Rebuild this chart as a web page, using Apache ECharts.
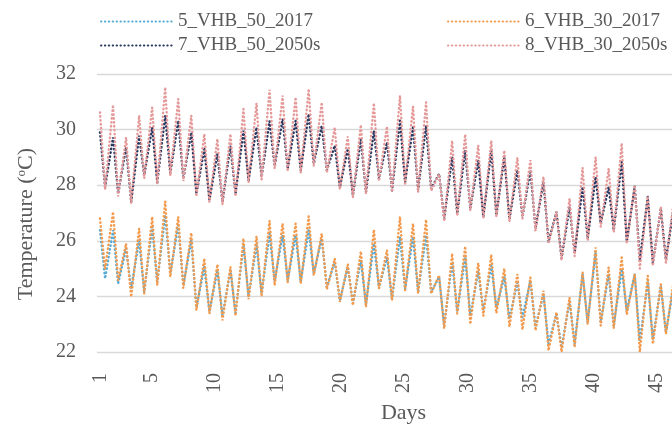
<!DOCTYPE html>
<html>
<head>
<meta charset="utf-8">
<script src="https://cdn.jsdelivr.net/npm/echarts@6/dist/echarts.min.js"></script>
<style>
  html, body { margin: 0; padding: 0; background: #ffffff; }
  #chart { width: 672px; height: 427px; }
</style>
</head>
<body>
<div id="chart"></div>
<script>
// Indoor temperature, daily maxima and minima for each case (°C)
const seriesNames = ['5_VHB_50_2017', '6_VHB_30_2017', '7_VHB_50_2050s', '8_VHB_30_2050s'];
const dayTicks = [1, 5, 10, 15, 20, 25, 30, 35, 40, 45];

const peak5 = [26.38, 26.38, 25.72, 26.02, 26.5, 26.92, 26.56, 26.02, 25.06, 24.94,
               24.94, 25.84, 25.84, 26.26, 26.2, 26.2, 26.38, 26.08, 25.24, 25.06,
               25.3, 25.9, 25.42, 26.14, 26.14, 26.2, 24.7, 25.24, 25.42, 24.9,
               25.1, 24.7, 24.5, 24.56, 24.08, 23.37, 23.84, 24.8, 25.58, 24.8,
               24.98, 24.8, 24.5, 24.38, 24.4, 24.6, 24.3];
const trough5 = [24.64, 24.46, 24.28, 24.16, 24.52, 24.82, 24.4, 23.6, 23.45, 23.3,
                 23.4, 24.0, 24.1, 24.55, 24.58, 24.52, 24.82, 24.34, 23.85, 23.75,
                 23.7, 24.3, 23.9, 24.25, 24.15, 24.15, 22.95, 23.45, 23.3, 23.5,
                 23.6, 23.2, 23.25, 22.9, 22.3, 22.15, 22.3, 23.07, 23.07, 22.95,
                 23.49, 22.4, 22.45, 22.7, 22.9, 23.0, 22.8];

const peak6 = [26.8, 27.04, 25.9, 26.44, 26.86, 27.42, 26.86, 26.28, 25.36, 25.15,
               25.06, 26.08, 26.16, 26.72, 26.62, 26.62, 26.88, 26.26, 25.36, 25.15,
               25.62, 26.4, 25.66, 26.86, 26.62, 26.76, 24.76, 25.54, 25.8, 25.2,
               25.5, 25.0, 24.8, 24.68, 24.2, 23.43, 23.96, 24.86, 25.76, 25.04,
               25.4, 24.8, 24.74, 24.44, 24.6, 24.9, 24.5];
const trough6 = [25.0, 24.58, 23.98, 24.1, 24.4, 24.7, 24.3, 23.5, 23.38, 23.14,
                 23.3, 23.9, 24.0, 24.4, 24.5, 24.45, 24.75, 24.25, 23.8, 23.68,
                 23.62, 24.28, 23.86, 24.22, 24.1, 24.1, 22.84, 23.38, 23.0, 23.3,
                 23.4, 22.9, 22.8, 22.77, 22.05, 22.0, 22.17, 23.0, 22.95, 22.85,
                 23.35, 22.0, 22.29, 22.65, 22.8, 22.9, 22.7];

const peak7 = [29.9, 29.72, 29.37, 29.78, 30.08, 30.5, 30.32, 29.9, 29.3, 29.13,
               29.42, 29.96, 30.08, 30.3, 30.38, 30.32, 30.56, 30.14, 29.43, 29.31,
               29.66, 29.96, 29.54, 30.32, 30.08, 30.14, 28.41, 29.0, 29.25, 28.89,
               29.25, 29.01, 28.54, 28.54, 28.12, 27.04, 27.22, 27.94, 28.3, 27.94,
               28.83, 27.96, 27.58, 27.16, 27.22, 27.5, 27.3];
const trough7 = [27.93, 27.69, 27.39, 28.35, 28.1, 28.43, 28.23, 27.69, 27.47, 27.39,
                 27.69, 28.17, 28.29, 28.68, 28.59, 28.53, 28.77, 28.53, 27.93, 27.63,
                 27.75, 28.23, 27.81, 28.11, 27.83, 27.87, 26.79, 26.97, 27.16, 26.86,
                 26.92, 26.77, 26.86, 26.44, 25.97, 25.37, 25.55, 26.09, 26.62, 26.38,
                 25.97, 25.31, 25.19, 25.31, 25.4, 25.5, 25.3];

const peak8 = [30.62, 30.89, 29.72, 30.5, 30.8, 31.52, 31.1, 30.5, 29.84, 29.66,
               29.84, 30.74, 30.95, 31.43, 31.22, 31.16, 31.46, 30.98, 30.08, 29.75,
               30.17, 30.95, 30.11, 31.22, 30.83, 30.98, 28.4, 29.6, 29.83, 29.43,
               29.6, 29.25, 28.99, 28.9, 28.3, 27.04, 27.52, 28.63, 29.01, 28.6,
               29.51, 28.0, 27.6, 27.22, 27.46, 27.8, 27.5];
const trough8 = [27.85, 27.6, 27.35, 28.25, 28.05, 28.35, 28.15, 27.6, 27.4, 27.3,
                 27.6, 28.1, 28.2, 28.6, 28.5, 28.45, 28.7, 28.45, 27.85, 27.55,
                 27.7, 28.15, 27.75, 28.05, 27.75, 27.8, 26.7, 26.9, 27.1, 26.8,
                 26.85, 26.7, 26.8, 26.35, 25.9, 25.3, 25.45, 26.0, 26.5, 26.3,
                 25.9, 25.0, 25.1, 25.2, 25.3, 25.4, 25.2];

// time of the daily maximum and minimum, as a fraction of the simulated day
const PEAK_AT = 0.23;
const TROUGH_AT = 0.62;

function dailyCycle(peaks, troughs) {
  const pts = [];
  peaks.forEach((p, i) => {
    pts.push([i + PEAK_AT, p]);
    pts.push([i + TROUGH_AT, troughs[i]]);
  });
  return pts;
}

const colors = ['#55ABD5', '#F29A4E', '#283861', '#E59999'];
const serif = '"Liberation Serif", "Times New Roman", serif';
const textGrey = '#595959';

const chart = echarts.init(document.getElementById('chart'), null, { renderer: 'canvas' });

const dotted = (c) => ({ color: c, width: 2.4, type: [0.4, 3.5], cap: 'round' });

const legendBase = {
  orient: 'vertical', top: 7,
  itemWidth: 72, itemHeight: 10, itemGap: 5,
  itemStyle: { opacity: 0 },
  textStyle: { fontFamily: serif, fontSize: 19, color: textGrey }
};

chart.setOption({
  animation: false,
  backgroundColor: '#ffffff',
  color: colors,
  legend: [
    Object.assign({ data: [seriesNames[0], seriesNames[2]], left: 95 }, legendBase),
    Object.assign({ data: [seriesNames[1], seriesNames[3]], left: 442 }, legendBase)
  ],
  // the plot runs on past the right edge of the page
  grid: { left: 97, top: 74, width: 613, height: 278, containLabel: false, outerBoundsMode: 'none' },
  xAxis: [
    {
      // one unit per simulated day
      type: 'value', min: 0, max: 47, show: false, position: 'bottom'
    },
    {
      // day labels
      type: 'value', min: 0.7, max: 49.2, position: 'bottom',
      name: 'Days', nameLocation: 'middle', nameGap: 50,
      nameTextStyle: { fontFamily: serif, fontSize: 22, color: textGrey },
      axisLine: { show: false }, axisTick: { show: false }, splitLine: { show: false },
      axisLabel: {
        customValues: dayTicks, rotate: 90, margin: 21,
        fontFamily: serif, fontSize: 20, color: textGrey
      }
    }
  ],
  yAxis: {
    type: 'value', min: 22, max: 32, interval: 2,
    axisLine: { show: false }, axisTick: { show: false },
    axisLabel: { fontFamily: serif, fontSize: 20, color: textGrey, margin: 21 },
    splitLine: { lineStyle: { color: '#D9D9D9', width: 1.3 } }
  },
  graphic: [{
    type: 'text', left: 15, top: 148, rotation: Math.PI / 2,
    style: {
      text: '{t|Temperature (}{s|o}{t|C)}',
      rich: {
        t: { fontFamily: serif, fontSize: 22, fill: textGrey },
        s: { fontFamily: serif, fontSize: 13, fill: textGrey, verticalAlign: 'top', padding: [0, 0, 9, 0] }
      }
    }
  }],
  series: [
    [peak5, trough5], [peak6, trough6], [peak7, trough7], [peak8, trough8]
  ].map(([p, t], i) => ({
    name: seriesNames[i],
    type: 'line',
    xAxisIndex: 0,
    symbol: 'none',
    data: dailyCycle(p, t),
    lineStyle: dotted(colors[i]),
    itemStyle: { color: colors[i] }
  }))
});
</script>
</body>
</html>
